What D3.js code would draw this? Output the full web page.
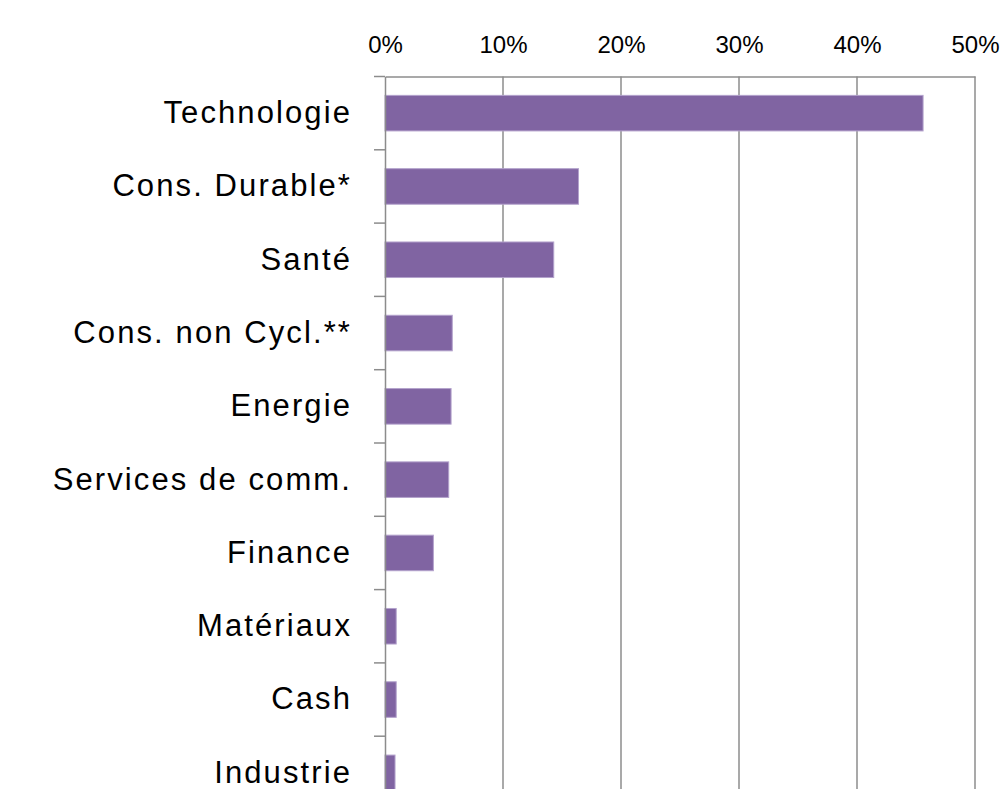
<!DOCTYPE html>
<html>
<head>
<meta charset="utf-8">
<script src="https://cdn.jsdelivr.net/npm/d3@7"></script>
<style>
  body { margin: 0; background: #fff; }
  svg { display: block; font-family: "Liberation Sans", Arial, sans-serif; }
</style>
</head>
<body>
<div id="chart"></div>
<script>
// Sector weights (percent of portfolio).
const sectors = ["Technologie", "Cons. Durable*", "Santé", "Cons. non Cycl.**", "Energie",
    "Services de comm.", "Finance", "Matériaux", "Cash", "Industrie"];
const weights = [45.6, 16.4, 14.3, 5.7, 5.6, 5.4, 4.1, 0.95, 0.95, 0.85];
const xTicks = [0, 10, 20, 30, 40, 50];

const WIDTH = 1000, HEIGHT = 789;
const PLOT = { left: 385, right: 975, top: 76.5, bottom: 809.5 };
const GRID = "#8c8c8c";

const data = sectors.map((s, i) => ({ sector: s, value: weights[i] }));

const svg = d3.select("#chart")
    .append("svg")
    .attr("width", WIDTH)
    .attr("height", HEIGHT);

const x = d3.scaleLinear()
    .domain([0, 50])
    .range([PLOT.left, PLOT.right]);

const y = d3.scaleBand()
    .domain(sectors)
    .range([PLOT.top, PLOT.bottom]);

// Vertical gridlines at each 10%, plus the top horizontal axis line.
svg.append("g")
    .selectAll("line")
    .data(xTicks.slice(1))
    .join("line")
    .attr("x1", d => x(d))
    .attr("x2", d => x(d))
    .attr("y1", PLOT.top)
    .attr("y2", PLOT.bottom)
    .attr("stroke", GRID)
    .attr("stroke-width", 1.5);

const xAxis = svg.append("g")
    .attr("transform", `translate(0, ${PLOT.top})`)
    .call(d3.axisTop(x).tickValues(xTicks).tickFormat(d => d + "%").tickSize(0).tickPadding(24));
xAxis.select(".domain").attr("stroke", GRID).attr("stroke-width", 1.5);
xAxis.selectAll("text")
    .attr("fill", "#000")
    .style("font-size", "24px");

// Bars: about half the band height, centred in each band.
const barH = y.bandwidth() * 0.485;
svg.append("g")
    .selectAll("rect")
    .data(data)
    .join("rect")
    .attr("x", x(0))
    .attr("y", d => y(d.sector) + (y.bandwidth() - barH) / 2)
    .attr("width", d => x(d.value) - x(0))
    .attr("height", barH)
    .attr("fill", "#8064a2")
    .attr("stroke", "#b3a2cc")
    .attr("stroke-width", 1);

// Category axis: labels centred on bands, ticks on band edges (Excel style).
const yAxis = svg.append("g")
    .attr("transform", `translate(${PLOT.left}, 0)`)
    .call(d3.axisLeft(y).tickSize(0).tickPadding(33));
yAxis.select(".domain").attr("stroke", GRID).attr("stroke-width", 1.5);
yAxis.selectAll("text")
    .attr("fill", "#000")
    .style("font-size", "31px")
    .style("letter-spacing", "2.1px");

yAxis.selectAll(".edge")
    .data(sectors.map(s => y(s)).concat([PLOT.bottom]))
    .join("line")
    .attr("class", "edge")
    .attr("x1", -11)
    .attr("x2", 0)
    .attr("y1", d => d)
    .attr("y2", d => d)
    .attr("stroke", GRID)
    .attr("stroke-width", 1.5);
</script>
</body>
</html>
